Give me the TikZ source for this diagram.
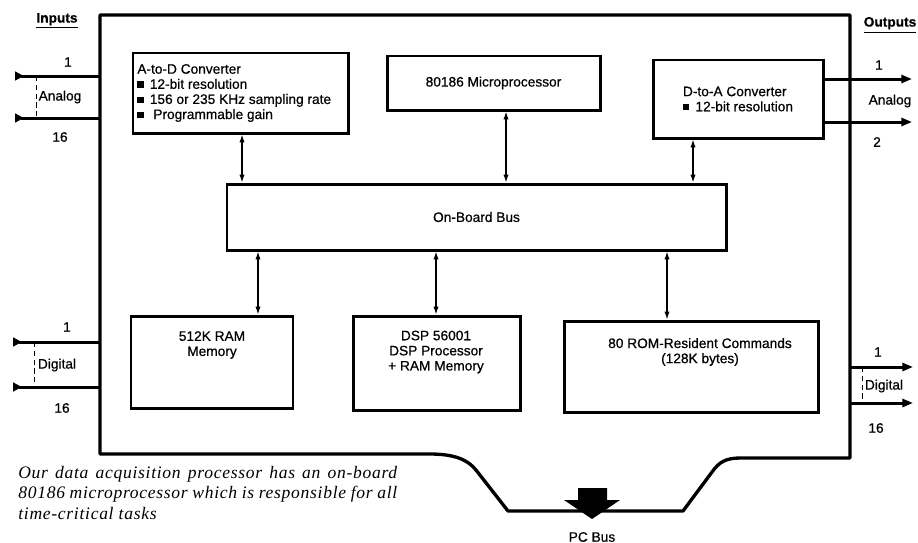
\documentclass[tikz,border=0pt]{standalone}
\usepackage{fontspec}
\setmainfont{Liberation Sans}[FakeBold=0.6]
\newfontfamily\capfont[LetterSpace=4]{Liberation Serif}
\usetikzlibrary{arrows.meta,fit}

\newcommand{\sqbul}{\rule[0.15ex]{3.6pt}{3.6pt}\hspace{3.5pt}}

\tikzset{
  blk/.style={draw, line width=1.7pt, inner sep=0pt},
  lbl/.style={font=\fontsize{7.8}{8.6}\selectfont, inner sep=0pt},
  busarr/.style={{Latex[length=4.5pt,width=3pt]}-{Latex[length=4.5pt,width=3pt]}, line width=0.7pt},
  inline/.style={line width=1.7pt, {Triangle[reversed,length=5pt,width=5pt]}-},
  outline/.style={line width=1.7pt, -{Triangle[length=6pt,width=4.5pt]}},
  brk/.style={densely dashed, line width=0.6pt}
}

\begin{document}
\begin{tikzpicture}[x=0.02cm,y=-0.02cm]
	\useasboundingbox (0,0) rectangle (918,542);

	% board outline with the PC bus edge
	\draw[line width=1.9pt, line join=round] (100,15) -- (850,15) -- (850,458) -- (740,458)
		.. controls (726,458) and (719,462) .. (712,472) -- (683,511) -- (508,511) -- (476,470)
		.. controls (468,460) and (455,454) .. (430,454) -- (100,454) -- cycle;

	% function blocks
	\node[blk, fit={(133,53) (348,133)}] (adc) {};
	\node[blk, fit={(387,56) (600,110)}] (cpu) {};
	\node[blk, fit={(653,60) (823,138)}] (dac) {};
	\node[blk, fit={(227,184) (726,250)}] (bus) {};
	\node[blk, fit={(131,316) (293,408)}] (ram) {};
	\node[blk, fit={(353,316) (520,410)}] (dsp) {};
	\node[blk, fit={(564,321) (818,412)}] (rom) {};

	\node[lbl, anchor=west, align=left] (adctxt) at (137,93) {A-to-D Converter\\
		\sqbul 12-bit resolution\\ \sqbul 156 or 235 KHz sampling rate\\ \sqbul\hspace{2pt}Programmable gain};
	\node[lbl] (cputxt) at (cpu.center) {80186 Microprocessor};
	\node[lbl, align=left] (dactxt) at (dac.center) {D-to-A Converter\\ \sqbul 12-bit resolution};
	\node[lbl] (bustxt) at (bus.center) {On-Board Bus};
	\node[lbl, align=center] (ramtxt) at (212,345) {512K RAM\\ Memory};
	\node[lbl, align=center] (dsptxt) at (436,352) {DSP 56001\\ DSP Processor\\ + RAM Memory};
	\node[lbl, align=center] (romtxt) at (700,352) {80 ROM-Resident Commands\\ (128K bytes)};

	% bus connections
	\foreach \n/\xx in {adc/242, cpu/506, dac/693}{
		\coordinate (x\n) at (\xx,0);
		\draw[busarr] (\n.south -| x\n) -- (bus.north -| x\n);
	}
	\foreach \n/\xx in {ram/258, dsp/436, rom/667}{
		\coordinate (x\n) at (\xx,0);
		\draw[busarr] (\n.north -| x\n) -- (bus.south -| x\n);
	}

	% inputs
	\node[lbl, font=\fontsize{7.8}{8.6}\selectfont\bfseries] (inhead) at (57,21) {\underline{Inputs}};
	\coordinate (ain1) at (15,76);   \coordinate (ain1w) at (100,76);
	\coordinate (ain16) at (15,118); \coordinate (ain16w) at (100,118);
	\draw[inline] (ain1) -- (ain1w);
	\draw[inline] (ain16) -- (ain16w);
	\draw[brk] ([xshift=12]ain1) -- ([xshift=12]ain16);
	\node[lbl] (ain1l) at (68,62) {1};
	\node[lbl] (ainl) at (60,97) {Analog};
	\node[lbl] (ain16l) at (60,137) {16};

	\coordinate (din1) at (13,342);  \coordinate (din1w) at (100,342);
	\coordinate (din16) at (13,387); \coordinate (din16w) at (100,387);
	\draw[inline] (din1) -- (din1w);
	\draw[inline] (din16) -- (din16w);
	\draw[brk] ([xshift=12]din1) -- ([xshift=12]din16);
	\node[lbl] (din1l) at (67,327) {1};
	\node[lbl] (dinl) at (57,365) {Digital};
	\node[lbl] (din16l) at (62,408) {16};

	% outputs
	\node[lbl, font=\fontsize{7.8}{8.6}\selectfont\bfseries] (outhead) at (890,25) {\underline{Outputs}};
	\coordinate (aout1) at (912,79);
	\coordinate (aout2) at (912,122);
	\draw[outline] (dac.east |- aout1) -- (aout1);
	\draw[outline] (dac.east |- aout2) -- (aout2);
	\node[lbl] (aout1l) at (879,65) {1};
	\node[lbl] (aoutl) at (890,101) {Analog};
	\node[lbl] (aout2l) at (877,142) {2};

	\coordinate (dout1) at (913,367);  \coordinate (dout1w) at (850,367);
	\coordinate (dout16) at (913,403); \coordinate (dout16w) at (850,403);
	\draw[outline] (dout1w) -- (dout1);
	\draw[outline] (dout16w) -- (dout16);
	\draw[brk] ([xshift=7]dout1w) -- ([xshift=7]dout16w);
	\node[lbl] (dout1l) at (878,352) {1};
	\node[lbl] (doutl) at (884,386) {Digital};
	\node[lbl] (dout16l) at (876,428) {16};

	% PC bus
	\fill (578,488) -- (607,488) -- (607,500) -- (620,500) -- (592,519) -- (564,500) -- (578,500) -- cycle;
	\node[lbl] (pcbus) at (592,537) {PC Bus};

	% caption
	\node[anchor=north west, inner sep=0pt, align=left,
		font=\capfont\itshape\fontsize{10}{11.6}\selectfont] (caption) at (18,466) {%
		\makebox[7.58cm][s]{Our data acquisition processor has an on-board}\\
		\makebox[7.58cm][s]{80186 microprocessor which is responsible for all}\\
		time-critical tasks};
\end{tikzpicture}
\end{document}
